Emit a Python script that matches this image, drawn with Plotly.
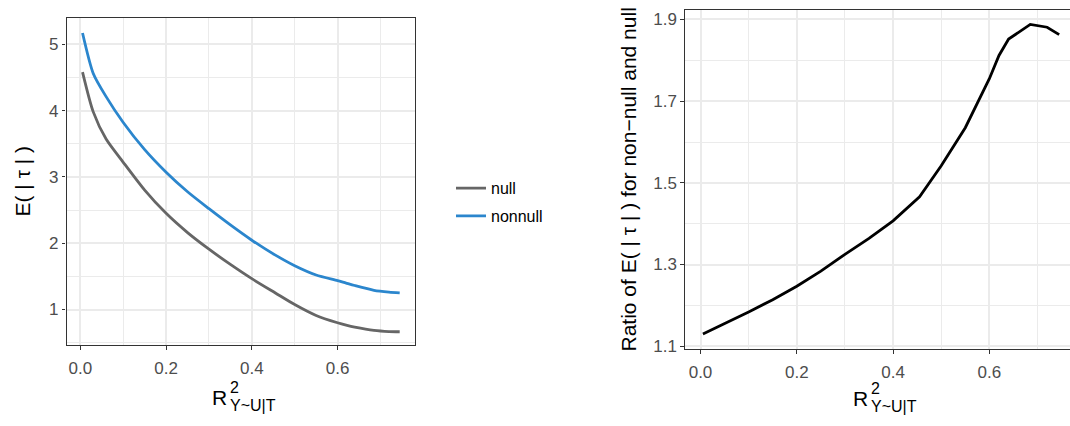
import plotly.graph_objects as go

# ---- data ----
r2 = [0.005, 0.03, 0.06, 0.10, 0.15, 0.20, 0.25, 0.30, 0.35, 0.40, 0.455,
      0.50, 0.55, 0.60, 0.62, 0.64, 0.685, 0.72, 0.745]
e_null = [4.58, 3.98, 3.57, 3.22, 2.80, 2.45, 2.16, 1.91, 1.68, 1.465, 1.25,
          1.075, 0.91, 0.80, 0.765, 0.735, 0.685, 0.668, 0.665]
e_nonnull = [5.17, 4.56, 4.21, 3.82, 3.41, 3.07, 2.775, 2.52, 2.275, 2.045, 1.82,
             1.66, 1.52, 1.435, 1.398, 1.362, 1.29, 1.262, 1.25]
ratio = [1.130, 1.145, 1.161, 1.184, 1.214, 1.247, 1.284, 1.325, 1.364, 1.407, 1.466,
         1.542, 1.635, 1.755, 1.812, 1.852, 1.888, 1.881, 1.863]
series_names = ["null", "nonnull"]
series_colors = ["#666666", "#2B86CD"]

W, H = 1070, 426
def px(x):
    return x / W
def py(y):
    return 1 - y / H

FONT = "Liberation Sans, Arial, sans-serif"
TICK_COL = "#4D4D4D"
GRID = "#EBEBEB"
BORDER = "#333333"
TITLE_SIZE = 21
TICK_SIZE = 17
LEG_SIZE = 16

fig = go.Figure()
for name, vals, col in zip(series_names, [e_null, e_nonnull], series_colors):
    fig.add_trace(go.Scatter(x=r2, y=vals, mode="lines", name=name,
                             line=dict(color=col, width=2.8, shape="spline", smoothing=0.7),
                             xaxis="x", yaxis="y", legendgroup=name))
fig.add_trace(go.Scatter(x=r2, y=ratio, mode="lines", name="ratio",
                         line=dict(color="black", width=2.8),
                         xaxis="x2", yaxis="y2", showlegend=False))

common_axis = dict(showgrid=True, gridcolor=GRID, gridwidth=1.6, zeroline=False,
                   showline=True, linecolor=BORDER, linewidth=1.2,
                   ticks="outside", ticklen=3.5, tickwidth=1.2, tickcolor=BORDER,
                   tickfont=dict(family=FONT, size=TICK_SIZE, color=TICK_COL))
minor_grid = dict(showgrid=True, gridcolor=GRID, gridwidth=0.8)

fig.update_layout(
    width=W, height=H,
    margin=dict(l=0, r=0, t=0, b=0),
    paper_bgcolor="white", plot_bgcolor="white",
    font=dict(family=FONT),
    xaxis=dict(domain=[px(66.5), px(415)], range=[-0.0324, 0.7807], anchor="y",
               tickvals=[0, 0.2, 0.4, 0.6], tickformat=".1f", mirror=True,
               ticklabelstandoff=4,
               minor=dict(tickvals=[0.1, 0.3, 0.5, 0.7], **minor_grid),
               **common_axis),
    yaxis=dict(domain=[py(351), py(18)], range=[0.4616, 5.40], anchor="x",
               tickvals=[1, 2, 3, 4, 5], mirror=True,
               minor=dict(tickvals=[0.5, 1.5, 2.5, 3.5, 4.5], **minor_grid),
               **common_axis),
    xaxis2=dict(domain=[px(685), 1.0], range=[-0.0322, 0.7675], anchor="y2",
                tickvals=[0, 0.2, 0.4, 0.6], tickformat=".1f", mirror=True,
                ticklabelstandoff=4,
                minor=dict(tickvals=[0.1, 0.3, 0.5, 0.7], **minor_grid),
                **common_axis),
    yaxis2=dict(domain=[py(355), py(10.3)], range=[1.0928, 1.9229], anchor="x2",
                tickvals=[1.1, 1.3, 1.5, 1.7, 1.9], tickformat=".1f", mirror=False,
                minor=dict(tickvals=[1.2, 1.4, 1.6, 1.8], **minor_grid),
                **common_axis),
    showlegend=True,
    legend=dict(x=px(451), y=py(174), xanchor="left", yanchor="top",
                bgcolor="rgba(0,0,0,0)", font=dict(family=FONT, size=LEG_SIZE, color="black"),
                tracegroupgap=4, itemwidth=30),
)

ann = []
def title_x(r_right, y_mid):
    # R with stacked superscript 2 and subscript Y~U|T
    ann.append(dict(x=px(r_right), y=py(y_mid), xref="paper", yref="paper", text="R",
                    showarrow=False, xanchor="right", yanchor="middle",
                    font=dict(family=FONT, size=TITLE_SIZE, color="black")))
    ann.append(dict(x=px(r_right - 1), y=py(y_mid - 10), xref="paper", yref="paper", text="2",
                    showarrow=False, xanchor="left", yanchor="middle",
                    font=dict(family=FONT, size=16, color="black")))
    ann.append(dict(x=px(r_right - 1), y=py(y_mid + 8), xref="paper", yref="paper", text="Y~U|T",
                    showarrow=False, xanchor="left", yanchor="middle",
                    font=dict(family=FONT, size=16, color="black")))

title_x(229, 404)
title_x(870, 405)
ann.append(dict(x=px(22), y=py(184.5), xref="paper", yref="paper", text="E( | τ | )",
                textangle=-90, showarrow=False, xanchor="center", yanchor="middle",
                font=dict(family=FONT, size=TITLE_SIZE, color="black")))
ann.append(dict(x=px(629), y=py(182.5), xref="paper", yref="paper",
                text="Ratio of E( | τ | ) for non\u2212null and null",
                textangle=-90, showarrow=False, xanchor="center", yanchor="middle",
                font=dict(family=FONT, size=TITLE_SIZE, color="black")))
fig.update_layout(annotations=ann)

fig.write_html("out.html")
